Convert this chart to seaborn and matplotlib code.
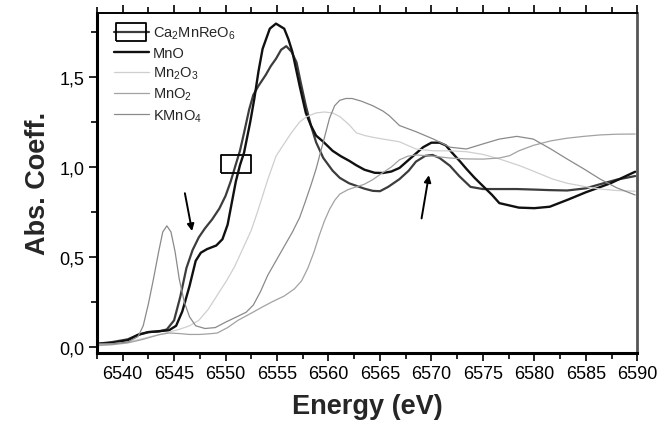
import numpy as np
import pandas as pd
import matplotlib
matplotlib.use("Agg")
import matplotlib.pyplot as plt
from matplotlib.ticker import MultipleLocator, FuncFormatter
import seaborn as sns

# Valores (energia en eV, coeficiente de absorcion)
e_ca = [6537.5, 6539.0, 6540.5, 6541.5, 6542.5, 6543.5, 6544.3, 6545.0, 6545.6, 6546.2,
        6546.8, 6547.4, 6548.0, 6548.7, 6549.4, 6550.0, 6550.5, 6551.0, 6551.4, 6551.8,
        6552.3, 6552.7, 6553.2, 6553.9, 6554.4, 6554.9, 6555.4, 6555.9, 6556.4, 6556.9,
        6557.3, 6557.8, 6558.3, 6558.8, 6559.5, 6560.4, 6561.1, 6562.0, 6562.7, 6563.5,
        6564.3, 6565.0, 6565.8, 6566.9, 6567.8, 6568.5, 6569.4, 6570.1, 6570.8, 6571.8,
        6572.7, 6573.8, 6575.0, 6576.6, 6578.3, 6580.0, 6581.5, 6583.2, 6585.0, 6586.4,
        6588.0, 6589.8]
a_ca = [0.02, 0.03, 0.045, 0.07, 0.085, 0.088, 0.10, 0.15, 0.28, 0.44,
        0.54, 0.61, 0.66, 0.71, 0.77, 0.84, 0.92, 1.015, 1.09, 1.19,
        1.32, 1.40, 1.45, 1.51, 1.56, 1.60, 1.65, 1.67, 1.64, 1.58,
        1.47, 1.34, 1.23, 1.137, 1.05, 0.98, 0.94, 0.91, 0.896, 0.88,
        0.868, 0.866, 0.89, 0.933, 0.98, 1.03, 1.062, 1.067, 1.05, 1.007,
        0.95, 0.89, 0.878, 0.878, 0.878, 0.875, 0.872, 0.870, 0.882, 0.905,
        0.93, 0.95]

e_mno = [6537.5, 6539.0, 6540.5, 6541.5, 6542.5, 6543.5, 6544.5, 6545.2, 6545.8, 6546.5,
         6547.1, 6547.6, 6548.2, 6549.1, 6549.7, 6550.2, 6550.6, 6551.0, 6551.4, 6551.8,
         6552.4, 6552.8, 6553.2, 6553.6, 6554.3, 6554.9, 6555.7, 6556.1, 6556.5, 6557.2,
         6557.8, 6558.3, 6558.8, 6559.5, 6560.4, 6561.2, 6562.0, 6562.7, 6563.5, 6564.5,
         6565.3, 6566.1, 6566.9, 6567.8, 6568.5, 6569.2, 6570.0, 6570.8, 6571.4, 6572.0,
         6572.8, 6573.4, 6574.2, 6575.0, 6575.9, 6576.6, 6578.5, 6580.0, 6581.5, 6583.3,
         6585.0, 6587.4, 6589.8]
a_mno = [0.02, 0.025, 0.04, 0.07, 0.085, 0.09, 0.095, 0.12, 0.20, 0.34,
         0.48, 0.525, 0.545, 0.565, 0.60, 0.68, 0.80, 0.92, 1.01, 1.08,
         1.25, 1.38, 1.53, 1.655, 1.767, 1.795, 1.767, 1.71, 1.637, 1.45,
         1.30, 1.23, 1.174, 1.14, 1.09, 1.06, 1.035, 1.01, 0.985, 0.968,
         0.967, 0.975, 0.995, 1.04, 1.075, 1.11, 1.135, 1.135, 1.12, 1.08,
         1.03, 0.99, 0.94, 0.895, 0.845, 0.80, 0.775, 0.772, 0.78, 0.82,
         0.86, 0.91, 0.974]

e_mn2o3 = [6537.5, 6539.0, 6540.5, 6542.0, 6543.5, 6544.5, 6545.5, 6546.5, 6547.4, 6548.3,
           6549.2, 6550.1, 6550.9, 6551.7, 6552.5, 6553.1, 6553.6, 6554.1, 6554.9, 6555.7,
           6556.4, 6557.2, 6557.9, 6558.8, 6559.6, 6560.4, 6561.1, 6562.0, 6562.7, 6563.5,
           6564.3, 6565.3, 6566.9, 6568.5, 6570.2, 6571.8, 6573.4, 6575.0, 6576.6, 6578.6,
           6580.0, 6581.8, 6583.2, 6585.1, 6586.4, 6588.0, 6589.8]
a_mn2o3 = [0.015, 0.02, 0.03, 0.05, 0.07, 0.085, 0.10, 0.12, 0.15, 0.21,
           0.29, 0.37, 0.45, 0.55, 0.65, 0.75, 0.84, 0.93, 1.06, 1.13,
           1.19, 1.25, 1.28, 1.30, 1.305, 1.30, 1.28, 1.235, 1.19, 1.175,
           1.165, 1.155, 1.14, 1.10, 1.09, 1.09, 1.085, 1.07, 1.045, 1.007,
           0.975, 0.933, 0.91, 0.89, 0.878, 0.87, 0.866]

e_mno2 = [6537.5, 6539.0, 6540.5, 6542.0, 6543.5, 6544.5, 6545.5, 6546.5, 6547.5, 6548.5,
          6549.2, 6550.2, 6551.2, 6552.5, 6553.6, 6554.6, 6555.7, 6556.7, 6557.4, 6558.0,
          6558.6, 6559.1, 6559.6, 6560.1, 6560.6, 6561.1, 6561.9, 6562.7, 6563.5, 6564.3,
          6565.3, 6566.1, 6566.9, 6567.7, 6568.5, 6570.2, 6571.8, 6573.4, 6575.0, 6576.6,
          6577.6, 6578.5, 6579.9, 6581.6, 6583.2, 6584.8, 6586.4, 6588.0, 6589.8]
a_mno2 = [0.01, 0.015, 0.025, 0.045, 0.07, 0.08, 0.077, 0.072, 0.072, 0.076,
          0.08, 0.11, 0.15, 0.19, 0.225, 0.255, 0.285, 0.325, 0.37, 0.44,
          0.53, 0.62, 0.70, 0.765, 0.815, 0.85, 0.875, 0.89, 0.905, 0.93,
          0.97, 1.0, 1.04, 1.06, 1.067, 1.06, 1.05, 1.045, 1.044, 1.05,
          1.063, 1.09, 1.12, 1.145, 1.16, 1.17, 1.178, 1.182, 1.183]

e_kmno4 = [6537.5, 6539.0, 6540.5, 6541.5, 6542.0, 6542.5, 6543.0, 6543.5, 6543.9, 6544.3,
           6544.7, 6545.1, 6545.5, 6546.0, 6546.5, 6547.1, 6548.0, 6549.0, 6550.0, 6551.1,
           6552.0, 6552.7, 6553.4, 6554.1, 6555.0, 6555.7, 6556.5, 6557.2, 6557.7, 6558.3,
           6558.8, 6559.5, 6560.1, 6560.6, 6561.1, 6561.7, 6562.3, 6563.2, 6564.3, 6565.3,
           6565.9, 6566.9, 6568.5, 6570.2, 6571.8, 6573.4, 6575.0, 6576.6, 6578.3, 6579.9,
           6581.6, 6583.2, 6584.8, 6586.4, 6588.0, 6589.8]
a_kmno4 = [0.02, 0.02, 0.03, 0.06, 0.12, 0.24, 0.38, 0.53, 0.64, 0.674,
           0.64, 0.53, 0.38, 0.25, 0.17, 0.12, 0.105, 0.11, 0.14, 0.17,
           0.195, 0.235, 0.31, 0.40, 0.49, 0.56, 0.64, 0.72, 0.80, 0.90,
           0.99, 1.14, 1.27, 1.34, 1.37, 1.38, 1.38, 1.365, 1.34, 1.31,
           1.285, 1.23, 1.196, 1.155, 1.11, 1.10, 1.128, 1.155, 1.17, 1.155,
           1.10, 1.044, 0.99, 0.933, 0.885, 0.845]

series = [
    ("Ca$_2$MnReO$_6$", e_ca, a_ca, "#3c3c3c", 1.6),
    ("MnO", e_mno, a_mno, "#101010", 1.7),
    ("Mn$_2$O$_3$", e_mn2o3, a_mn2o3, "#cfcfcf", 0.9),
    ("MnO$_2$", e_mno2, a_mno2, "#a2a2a2", 0.9),
    ("KMnO$_4$", e_kmno4, a_kmno4, "#8a8a8a", 0.9),
]

sns.set_theme(style="ticks")
plt.rcParams["font.family"] = ["Liberation Sans", "DejaVu Sans"]
plt.rcParams["mathtext.fontset"] = "custom"
plt.rcParams["mathtext.rm"] = "Liberation Sans"
plt.rcParams["mathtext.default"] = "regular"

fig = plt.figure(figsize=(6.59, 4.31), dpi=100)
ax = fig.add_axes([0.147, 0.179, 0.820, 0.789])

# marcador rectangular (solo un punto de Ca2MnReO6)
caja = [(-1, -0.63), (1, -0.63), (1, 0.63), (-1, 0.63), (-1, -0.63)]

for nombre, e, a, color, lw in series:
    df = pd.DataFrame({"E": e, "A": a})
    if nombre.startswith("Ca"):
        idx = e.index(6551.0)
        sns.lineplot(data=df, x="E", y="A", ax=ax, color=color, lw=lw, label=nombre,
                     marker=caja, markevery=[idx], markersize=21.6,
                     markerfacecolor="none", markeredgecolor="black", markeredgewidth=1.3)
    else:
        sns.lineplot(data=df, x="E", y="A", ax=ax, color=color, lw=lw, label=nombre)

# flechas
ax.annotate("", xy=(6546.8, 0.63), xytext=(6546.0, 0.87),
            arrowprops=dict(arrowstyle="-|>", color="black", lw=1.4, mutation_scale=10))
ax.annotate("", xy=(6569.8, 0.97), xytext=(6569.0, 0.70),
            arrowprops=dict(arrowstyle="-|>", color="black", lw=1.4, mutation_scale=10))

ax.set_xlim(6537.5, 6590)
ax.set_ylim(-0.03, 1.855)
ax.xaxis.set_major_locator(MultipleLocator(5))
ax.xaxis.set_minor_locator(MultipleLocator(2.5))
ax.yaxis.set_major_locator(MultipleLocator(0.5))
ax.yaxis.set_minor_locator(MultipleLocator(0.25))
ax.yaxis.set_major_formatter(FuncFormatter(lambda v, p: f"{v:.1f}".replace(".", ",")))
ax.tick_params(which="both", direction="out", top=True, right=False, colors="black",
               labelsize=13, width=1.2)
ax.tick_params(which="major", length=6, pad=3)
ax.tick_params(which="minor", length=4)

for lado in ["left", "bottom"]:
    ax.spines[lado].set_linewidth(2.2)
    ax.spines[lado].set_color("black")
ax.spines["top"].set_linewidth(1.4)
ax.spines["top"].set_color("black")
ax.spines["right"].set_linewidth(2.0)
ax.spines["right"].set_color("#555555")

ax.set_xlabel("Energy (eV)", fontsize=19.5, fontweight="bold", labelpad=8)
ax.set_ylabel("Abs. Coeff.", fontsize=19.5, fontweight="bold", labelpad=6)

ax.legend(loc="upper left", frameon=False, fontsize=10.5, handlelength=2.4,
          labelspacing=0.33, handletextpad=0.3, borderaxespad=0.3,
          bbox_to_anchor=(0.012, 0.995))

fig.savefig("out.png", dpi=100)
